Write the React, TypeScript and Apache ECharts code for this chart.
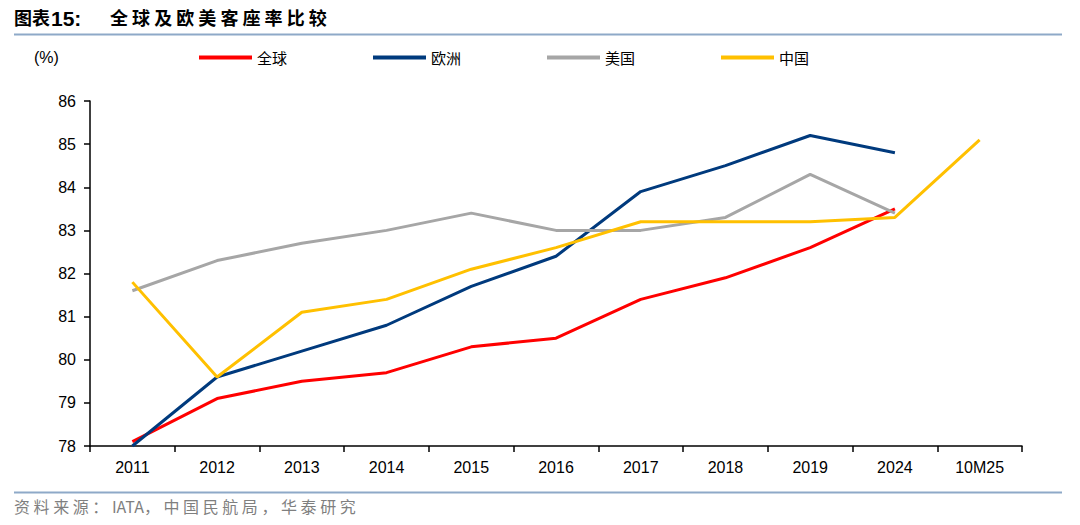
import React, { useEffect, useRef } from "react";
import * as echarts from "echarts";

const categories = ["2011", "2012", "2013", "2014", "2015", "2016", "2017", "2018", "2019", "2024", "10M25"];
const globalVals = [78.1, 79.1, 79.5, 79.7, 80.3, 80.5, 81.4, 81.9, 82.6, 83.5, null];
const europeVals = [78.0, 79.6, 80.2, 80.8, 81.7, 82.4, 83.9, 84.5, 85.2, 84.8, null];
const usVals = [81.6, 82.3, 82.7, 83.0, 83.4, 83.0, 83.0, 83.3, 84.3, 83.4, null];
const chinaVals = [81.8, 79.6, 81.1, 81.4, 82.1, 82.6, 83.2, 83.2, 83.2, 83.3, 85.1];
const seriesNames = ["全球", "欧洲", "美国", "中国"];
const seriesColors = ["#FF0000", "#003A7D", "#A6A6A6", "#FFC000"];

const CJK = '"Noto Sans CJK SC", "Liberation Sans", sans-serif';
const LAT = '"Liberation Sans", Arial, sans-serif';

export default function App() {
  const ref = useRef<HTMLDivElement>(null);
  useEffect(() => {
    if (!ref.current) return;
    const chart = echarts.init(ref.current, null, { renderer: "svg" });
    const data = [globalVals, europeVals, usVals, chinaVals];
    chart.setOption({
      animation: false,
      backgroundColor: "#ffffff",
      grid: { left: 90, right: 58, top: 101, bottom: 79, containLabel: false },
      legend: {
        left: 194,
        top: 45,
        icon: "rect",
        itemWidth: 53,
        itemHeight: 4,
        itemGap: 86,
        textStyle: { fontFamily: CJK, fontSize: 15, color: "#000" },
        data: seriesNames,
      },
      xAxis: {
        type: "category",
        data: categories,
        boundaryGap: true,
        axisLine: { show: true, lineStyle: { color: "#000", width: 1.5 } },
        axisTick: { show: true, length: 6, lineStyle: { color: "#000", width: 1.5 } },
        axisLabel: { color: "#000", fontFamily: LAT, fontSize: 16, margin: 13 },
        splitLine: { show: false },
      },
      yAxis: {
        type: "value",
        min: 78,
        max: 86,
        interval: 1,
        axisLine: { show: true, lineStyle: { color: "#000", width: 1.5 } },
        axisTick: { show: true, length: 6, lineStyle: { color: "#000", width: 1.5 } },
        axisLabel: { color: "#000", fontFamily: LAT, fontSize: 16, margin: 14 },
        splitLine: { show: false },
      },
      series: seriesNames.map((n, i) => ({
        name: n,
        type: "line",
        data: data[i],
        symbol: "none",
        color: seriesColors[i],
        lineStyle: { color: seriesColors[i], width: 3 },
        connectNulls: false,
      })),
      graphic: [
        {
          type: "text",
          left: 14,
          top: 8,
          style: { text: "图表", fontFamily: CJK, fontWeight: "bold", fontSize: 18, fill: "#000" },
        },
        {
          type: "text",
          left: 51,
          top: 8,
          style: { text: "15:", fontFamily: LAT, fontWeight: "bold", fontSize: 21, fill: "#000" },
        },
        {
          type: "text",
          left: 110,
          top: 8,
          style: { text: "全 球 及 欧 美 客 座 率 比 较", fontFamily: CJK, fontWeight: "bold", fontSize: 18, fill: "#000" },
        },
        {
          type: "line",
          shape: { x1: 14, y1: 34.5, x2: 1062, y2: 34.5 },
          style: { stroke: "#8EA9C8", lineWidth: 2 },
        },
        {
          type: "text",
          left: 34,
          top: 49,
          style: { text: "(%)", fontFamily: LAT, fontSize: 16, fill: "#000" },
        },
        {
          type: "line",
          shape: { x1: 14, y1: 492.5, x2: 1062, y2: 492.5 },
          style: { stroke: "#8EA9C8", lineWidth: 2 },
        },
        {
          type: "text",
          left: 14,
          top: 498,
          style: { text: "资 料 来 源 ： IATA， 中 国 民 航 局 ， 华 泰 研 究", fontFamily: CJK, fontSize: 16, fill: "#7F7F7F" },
        },
      ],
    });
    return () => chart.dispose();
  }, []);
  return (
    <div
      ref={ref}
      style={{ position: "absolute", left: 0, top: 0, width: 1080, height: 525 }}
    />
  );
}
